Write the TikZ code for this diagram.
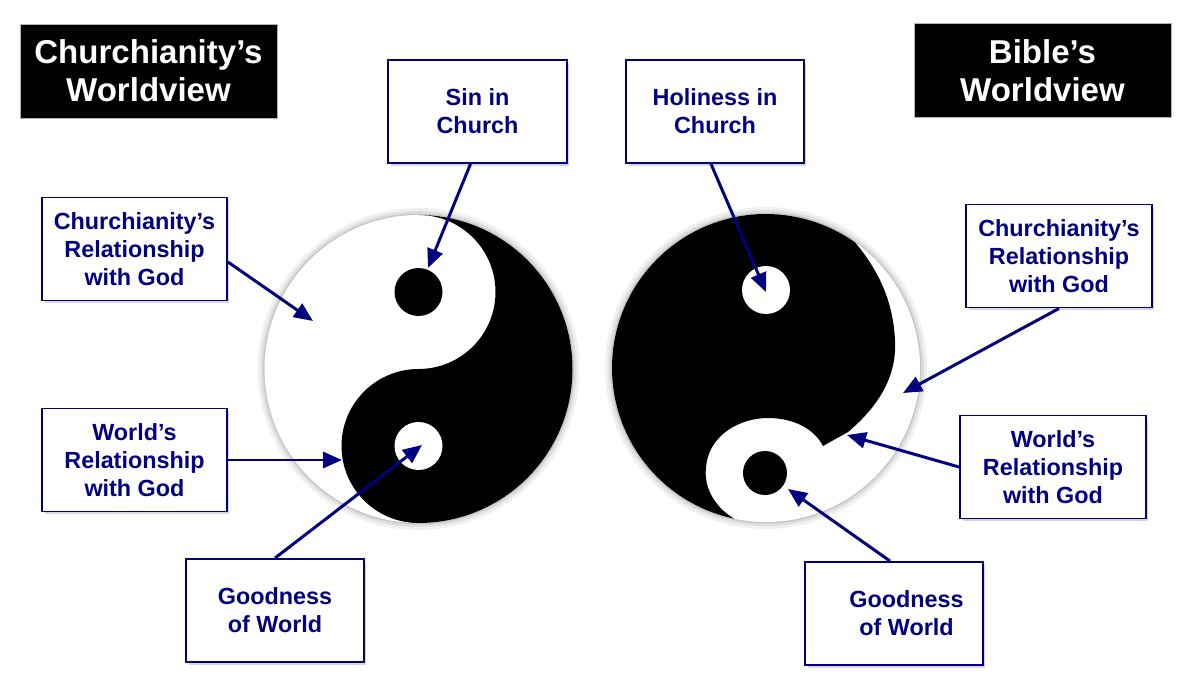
\documentclass[tikz,border=0pt]{standalone}
\usepackage{fontspec}
\setmainfont{Liberation Sans}
\usetikzlibrary{arrows.meta,shadows}
\definecolor{SlideNavy}{HTML}{000080}
\begin{document}
\begin{tikzpicture}[x=0.02cm,y=0.02cm,
  titlebox/.style={fill=black,draw=gray!60,line width=0.4pt,text=white,align=center,
    font=\fontsize{18.8}{21.6}\selectfont\bfseries,
    minimum width=5.14cm,minimum height=1.88cm,inner sep=0pt},
  labelbox/.style={fill=white,draw=SlideNavy,line width=1.1pt,text=SlideNavy,align=center,
    font=\fontsize{13.3}{16}\selectfont\bfseries,minimum height=2.06cm,inner sep=0pt,
    drop shadow={opacity=0.3,shadow xshift=0.05cm,shadow yshift=-0.06cm}},
  pointer/.style={SlideNavy,line width=1.7pt,-{Triangle[length=0.38cm,width=0.32cm]}}]

  \fill[white] (0,0) rectangle (1198,-696);
  \useasboundingbox (0,0) rectangle (1198,-696);

  % Left yin-yang (Churchianity)
  \fill[gray!12] (418.5,-369) circle (161);
  \fill[gray!25] (418.5,-369) circle (158);
  \fill[gray!45] (418.5,-369) circle (155.5);
  \fill[white] (418.5,-369) circle (154);
  \fill[black] (418.5,-215) arc (90:-90:154) arc (270:90:77) arc (-90:90:77) -- cycle;
  \fill[black] (418.5,-292) circle (24);
  \fill[white] (418.5,-446) circle (24);

  % Right yin-yang (Bible)
  \fill[gray!12] (766,-368) circle (161);
  \fill[gray!25] (766,-368) circle (158);
  \fill[gray!45] (766,-368) circle (155.5);
  \fill[white] (766,-368) circle (154);
  \fill[black] (766,-214) arc (90:258:154)
    .. controls (712,-505) and (704,-485) .. (706,-468)
    .. controls (708,-435) and (740,-418) .. (768,-418)
    .. controls (795,-418) and (815,-430) .. (823,-446)
    -- (848,-432)
    .. controls (880,-405) and (897,-375) .. (895,-340)
    .. controls (893,-300) and (878,-270) .. (855.2,-242.5)
    arc (54.6:90:154) -- cycle;
  \fill[white] (766,-290) circle (24);
  \fill[black] (765,-473) circle (22);

  % Titles
  \node[titlebox] (tl) at (148.5,-71) {Churchianity’s\\Worldview};
  \node[titlebox] (tr) at (1042.5,-70.5) {Bible’s\\Worldview};

  % Labels, left side
  \node[labelbox,minimum width=3.58cm] (sin) at (477.5,-111.5) {Sin in\\Church};
  \node[labelbox,minimum width=3.7cm] (cl) at (134.5,-249) {Churchianity’s\\Relationship\\with God};
  \node[labelbox,minimum width=3.7cm] (wl) at (134.5,-460) {World’s\\Relationship\\with God};
  \node[labelbox,minimum width=3.56cm] (gl) at (275,-610.5) {Goodness\\of World};

  % Labels, right side
  \node[labelbox,minimum width=3.56cm] (hol) at (715,-111.5) {Holiness in\\Church};
  \node[labelbox,minimum width=3.72cm] (cr) at (1059,-256) {Churchianity’s\\Relationship\\with God};
  \node[labelbox,minimum width=3.72cm] (wr) at (1053,-467) {World’s\\Relationship\\with God};
  \node[labelbox,minimum width=3.56cm] (gr) at (894,-613.5)
    {\hspace*{0.5cm}Goodness\\\hspace*{0.5cm}of World};

  % Arrow tips
  \coordinate (sinTip) at (428,-268);
  \coordinate (clTip) at (313,-321);
  \coordinate (wlTip) at (342,-460);
  \coordinate (glTip) at (422,-445);
  \coordinate (holTip) at (766,-292);
  \coordinate (crTip) at (903,-393);
  \coordinate (wrTip) at (847,-435);
  \coordinate (grTip) at (788,-489);

  % Arrows
  \draw[pointer] ([xshift=-0.14cm]sin.south) -- (sinTip);
  \draw[pointer] ([yshift=-0.26cm]cl.east) -- (clTip);
  \draw[pointer] (wl.east) -- (wlTip);
  \draw[pointer] (gl.north) -- (glTip);
  \draw[pointer] ([xshift=-0.08cm]hol.south) -- (holTip);
  \draw[pointer] (cr.south) -- (crTip);
  \draw[pointer] (wr.west) -- (wrTip);
  \draw[pointer] ([xshift=-0.08cm]gr.north) -- (grTip);
\end{tikzpicture}
\end{document}
